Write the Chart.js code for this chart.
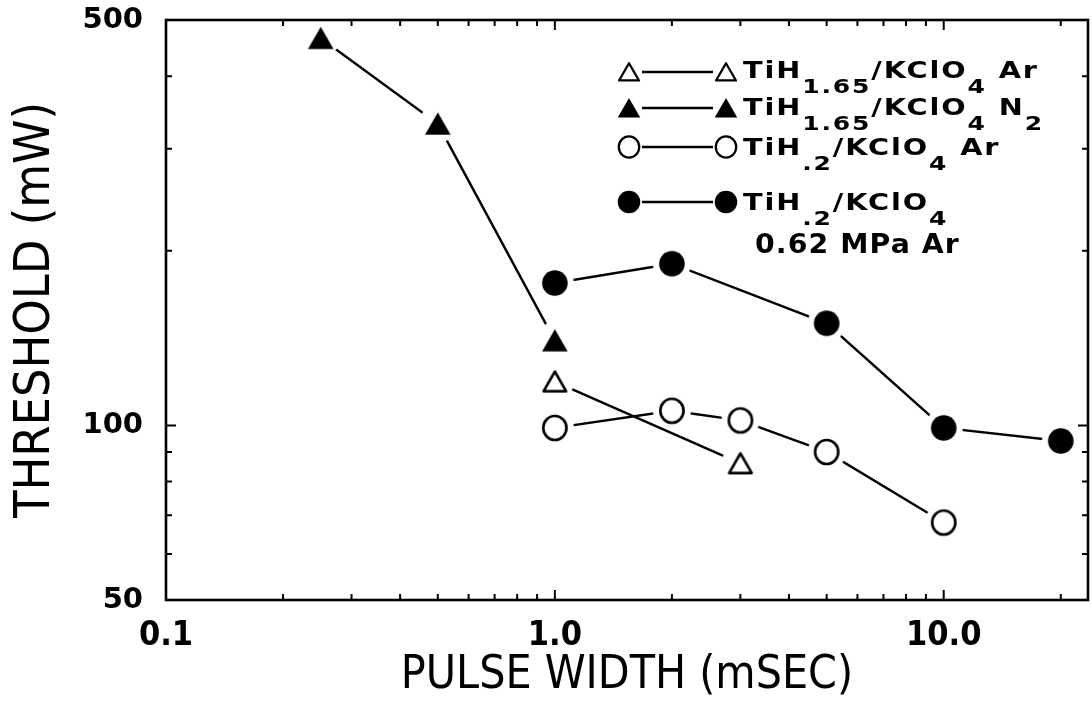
<!DOCTYPE html>
<html>
<head>
<meta charset="utf-8">
<script src="https://cdn.jsdelivr.net/npm/chart.js@4.4.1/dist/chart.umd.min.js"></script>
<style>
  html, body { margin: 0; padding: 0; background: #ffffff; overflow: hidden; }
  #c { display: block; }
</style>
</head>
<body>
<canvas id="c" width="1092" height="708"></canvas>
<script>
// ---------------- data ----------------
const seriesLabels = [
  "TiH_{1.65}/KClO_{4} Ar",
  "TiH_{1.65}/KClO_{4} N_{2}",
  "TiH_{.2}/KClO_{4} Ar",
  "TiH_{.2}/KClO_{4}"
];
const seriesNote = "0.62 MPa Ar";

const tiH165ArX = [1.0, 3.0];
const tiH165ArY = [119, 86];

const tiH165N2X = [0.25, 0.5, 1.0];
const tiH165N2Y = [465, 331, 140];

const tiH2ArX = [1.0, 2.0, 3.0, 5.0, 10.0];
const tiH2ArY = [99, 106, 102, 90, 68];

const tiH2MPaX = [1.0, 2.0, 5.0, 10.0, 20.0];
const tiH2MPaY = [176, 190, 150, 99, 94];

const xTickValues = [0.1, 0.2, 0.3, 0.4, 0.5, 0.6, 0.7, 0.8, 0.9, 1, 2, 3, 4, 5, 6, 7, 8, 9, 10, 20];
const xLabelValues = [0.1, 1, 10];
const xLabelTexts = ["0.1", "1.0", "10.0"];
const yTickValues = [50, 60, 70, 80, 90, 100, 200, 300, 400, 500];
const yLabelValues = [50, 100, 500];
const yLabelTexts = ["50", "100", "500"];
const xRange = [0.1, 23.5];
const yRange = [50, 500];

const xTitle = "PULSE WIDTH (mSEC)";
const yTitle = "THRESHOLD (mW)";

// ---------------- helpers ----------------
function pts(xs, ys) { return xs.map((x, i) => ({ x: x, y: ys[i] })); }
function parseRich(s) {
  const segs = []; let last = 0; const re = /_\{([^}]*)\}/g; let m;
  while ((m = re.exec(s)) !== null) {
    if (m.index > last) segs.push({ t: s.slice(last, m.index), sub: false });
    segs.push({ t: m[1], sub: true });
    last = re.lastIndex;
  }
  if (last < s.length) segs.push({ t: s.slice(last), sub: false });
  return segs;
}
function plain(s) { return s.replace(/_\{([^}]*)\}/g, "$1"); }

function makeMarker(shape, filled, scale, halo) {
  const S = 44;
  const c = document.createElement('canvas');
  c.width = S; c.height = S;
  const g = c.getContext('2d');
  g.translate(S / 2, S / 2);
  if (halo) {
    g.fillStyle = '#ffffff';
    g.beginPath(); g.arc(0, 0, 19, 0, Math.PI * 2); g.fill();
  }
  g.scale(scale, scale);
  g.strokeStyle = '#000'; g.fillStyle = '#000';
  g.lineWidth = 2.6; g.lineJoin = 'round';
  g.beginPath();
  if (shape === 'triangle') {
    if (filled) {
      g.moveTo(0, -11.5); g.lineTo(12.8, 10.8); g.lineTo(-12.8, 10.8); g.closePath(); g.fill();
    } else {
      g.moveTo(0, -10); g.lineTo(11.3, 9.6); g.lineTo(-11.3, 9.6); g.closePath(); g.stroke();
    }
  } else {
    if (filled) {
      g.arc(0, 0, 12.8, 0, Math.PI * 2); g.fill();
    } else {
      g.ellipse(0, 0, 11.6, 12.0, 0, 0, Math.PI * 2); g.stroke();
    }
  }
  return c;
}

const markerDefs = [
  ['triangle', false], ['triangle', true], ['circle', false], ['circle', true]
];
const plotMarkers = markerDefs.map(d => makeMarker(d[0], d[1], 1, true));
const legendMarkers = markerDefs.map(d => makeMarker(d[0], d[1], 0.88, false));

const seriesX = [tiH165ArX, tiH165N2X, tiH2ArX, tiH2MPaX];
const seriesY = [tiH165ArY, tiH165N2Y, tiH2ArY, tiH2MPaY];

const datasets = seriesLabels.map((lab, i) => ({
  label: plain(lab),
  data: pts(seriesX[i], seriesY[i]),
  showLine: true,
  borderColor: '#000',
  borderWidth: 2.4,
  backgroundColor: '#000',
  pointStyle: plotMarkers[i],
  pointRadius: 12,
  pointHoverRadius: 12,
  fill: false,
  tension: 0
}));

// ---------------- plugins ----------------
const frameTicks = {
  id: 'frameTicks',
  afterDatasetsDraw(chart) {
    const { ctx, chartArea: a, scales: { x, y } } = chart;
    ctx.save();
    ctx.strokeStyle = '#000';
    ctx.lineWidth = 2.6;
    ctx.strokeRect(a.left, a.top, a.right - a.left, a.bottom - a.top);
    ctx.lineWidth = 2;
    ctx.beginPath();
    xTickValues.forEach(v => {
      const px = x.getPixelForValue(v);
      if (px < a.left + 1 || px > a.right - 1) return;
      const len = xLabelValues.includes(v) ? 10 : 6;
      ctx.moveTo(px, a.bottom); ctx.lineTo(px, a.bottom - len);
      ctx.moveTo(px, a.top); ctx.lineTo(px, a.top + len);
    });
    yTickValues.forEach(v => {
      const py = y.getPixelForValue(v);
      if (py < a.top + 1 || py > a.bottom - 1) return;
      const len = yLabelValues.includes(v) ? 10 : 6;
      ctx.moveTo(a.left, py); ctx.lineTo(a.left + len, py);
      ctx.moveTo(a.right, py); ctx.lineTo(a.right - len, py);
    });
    ctx.stroke();
    ctx.restore();
  }
};

function drawRich(ctx, segs, x, y) {
  ctx.save();
  ctx.translate(x, y);
  ctx.scale(1.25, 1);
  ctx.letterSpacing = '1.5px';
  ctx.textBaseline = 'alphabetic';
  let cx = 0;
  segs.forEach(s => {
    ctx.font = s.sub ? 'bold 20px "DejaVu Sans"' : 'bold 23px "DejaVu Sans"';
    ctx.fillText(s.t, cx, s.sub ? 15 : 0);
    cx += ctx.measureText(s.t).width;
  });
  ctx.restore();
}

const richLegend = {
  id: 'richLegend',
  afterDraw(chart) {
    const ctx = chart.ctx;
    const rows = [
      { my: 72, by: 78 },
      { my: 108, by: 115 },
      { my: 147, by: 155 },
      { my: 202, by: 210 }
    ];
    const m1 = 629, m2 = 726, l1 = 642, l2 = 713, tx = 743;
    ctx.save();
    ctx.fillStyle = '#000'; ctx.strokeStyle = '#000';
    seriesLabels.forEach((lab, i) => {
      const r = rows[i];
      const mk = legendMarkers[i];
      ctx.drawImage(mk, m1 - mk.width / 2, r.my - mk.height / 2);
      ctx.drawImage(mk, m2 - mk.width / 2, r.my - mk.height / 2);
      ctx.lineWidth = 2.4;
      ctx.beginPath(); ctx.moveTo(l1, r.my); ctx.lineTo(l2, r.my); ctx.stroke();
      drawRich(ctx, parseRich(lab), tx, r.by);
    });
    ctx.save();
    ctx.translate(755, 253);
    ctx.scale(1.09, 1);
    ctx.font = 'bold 26px "DejaVu Sans"';
    ctx.letterSpacing = '1px';
    ctx.textBaseline = 'alphabetic';
    ctx.fillText(seriesNote, 0, 0);
    ctx.restore();
    ctx.restore();
  }
};

// ---------------- chart ----------------
new Chart(document.getElementById('c'), {
  type: 'scatter',
  data: { datasets: datasets },
  plugins: [frameTicks, richLegend],
  options: {
    responsive: false,
    maintainAspectRatio: false,
    animation: false,
    devicePixelRatio: 1,
    events: [],
    layout: { autoPadding: false, padding: { top: 20, right: 4, bottom: 0, left: 0 } },
    plugins: { legend: { display: false }, tooltip: { enabled: false } },
    scales: {
      x: {
        type: 'logarithmic',
        min: xRange[0], max: xRange[1],
        grid: { display: false, drawTicks: false, tickLength: 0 },
        border: { display: false },
        afterBuildTicks: s => { s.ticks = xTickValues.map(v => ({ value: v })); },
        afterFit: s => { s.height = 108; s.paddingLeft = 0; s.paddingRight = 0; },
        ticks: {
          autoSkip: false, maxRotation: 0, minRotation: 0, padding: 16, color: '#000',
          font: { family: '"DejaVu Sans Condensed", "DejaVu Sans"', weight: 'bold', size: 34 },
          callback: v => { const i = xLabelValues.indexOf(v); return i >= 0 ? xLabelTexts[i] : ''; }
        },
        title: {
          display: true, text: xTitle, color: '#000',
          font: { family: '"DejaVu Sans Condensed", "DejaVu Sans"', size: 46, weight: 'normal' },
          padding: { top: 0, bottom: 4 }
        }
      },
      y: {
        type: 'logarithmic',
        min: yRange[0], max: yRange[1],
        grid: { display: false, drawTicks: false, tickLength: 0 },
        border: { display: false },
        afterBuildTicks: s => { s.ticks = yTickValues.map(v => ({ value: v })); },
        afterFit: s => { s.width = 166; s.paddingTop = 0; s.paddingBottom = 0; },
        ticks: {
          autoSkip: false, padding: 23, color: '#000',
          font: { family: '"DejaVu Sans"', weight: 'bold', size: 29 },
          callback: v => { const i = yLabelValues.indexOf(v); return i >= 0 ? yLabelTexts[i] : ''; }
        },
        title: {
          display: true, text: yTitle, color: '#000',
          font: { family: '"DejaVu Sans Condensed", "DejaVu Sans"', size: 50, weight: 'normal' },
          padding: { top: 6, bottom: 0 }
        }
      }
    }
  }
});
</script>
</body>
</html>
